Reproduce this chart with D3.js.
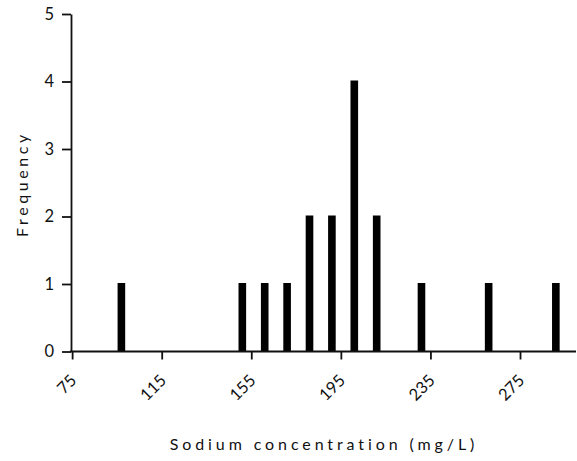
<!DOCTYPE html>
<html>
<head>
<meta charset="utf-8">
<script src="https://cdn.jsdelivr.net/npm/d3@7"></script>
<style>
  body { margin: 0; background: #fff; }
  text { font-family: Lato, "Open Sans", sans-serif; fill: #111; }
</style>
</head>
<body>
<div id="canvas"></div>
<script>
// bin centres (mg/L) and how many samples fell in each
const binCenters = [97, 151, 161, 171, 181, 191, 201, 211, 231, 261, 291];
const frequencies = [1, 1, 1, 1, 2, 2, 4, 2, 1, 1, 1];
const xTicks = [75, 115, 155, 195, 235, 275];
const yTicks = [0, 1, 2, 3, 4, 5];

const bins = binCenters.map((c, i) => ({center: c, count: frequencies[i]}));

const width = 577, height = 461;

const svg = d3.select("#canvas")
    .append("svg")
    .attr("width", width)
    .attr("height", height);

const x = d3.scaleLinear()
    .domain([74.5, 300])
    .range([71, 576]);

const y = d3.scaleLinear()
    .domain([0, 5])
    .range([351.5, 14]);

const halfBar = 1.7;

// bars
svg.append("g")
    .selectAll("rect")
    .data(bins)
    .enter()
    .append("rect")
    .attr("x", d => x(d.center - halfBar))
    .attr("y", d => y(d.count) - 1)
    .attr("width", d => x(d.center + halfBar) - x(d.center - halfBar))
    .attr("height", d => y(0) - y(d.count) + 1)
    .style("fill", "#000");

// x axis
const xAxis = svg.append("g")
    .attr("transform", "translate(0," + y(0) + ")")
    .call(d3.axisBottom(x).tickValues(xTicks).tickSize(8).tickSizeOuter(0).tickFormat(d3.format("d")));
xAxis.select(".domain").attr("d", "M" + (x.range()[0] - 1) + ",0H" + x.range()[1]);
xAxis.selectAll("line, path").style("stroke", "#111").style("stroke-width", 1.8);
xAxis.selectAll("text")
    .attr("y", 0)
    .attr("x", 0)
    .attr("dy", 0)
    .attr("transform", "translate(5,30) rotate(-45)")
    .style("text-anchor", "end")
    .style("font-size", "16.5px");

// y axis
const yAxis = svg.append("g")
    .attr("transform", "translate(" + x.range()[0] + ",0)")
    .call(d3.axisLeft(y).tickValues(yTicks).tickSize(9).tickSizeOuter(0).tickFormat(d3.format("d")));
yAxis.selectAll("line, path").style("stroke", "#111").style("stroke-width", 1.8);
yAxis.selectAll("text")
    .attr("x", -17)
    .style("font-size", "16.5px");

// axis titles
svg.append("text")
    .attr("x", 324)
    .attr("y", 450)
    .attr("text-anchor", "middle")
    .style("font-size", "16px")
    .style("letter-spacing", "3.9px")
    .text("Sodium concentration (mg/L)");

svg.append("text")
    .attr("transform", "translate(28,184) rotate(-90)")
    .attr("text-anchor", "middle")
    .style("font-size", "16px")
    .style("letter-spacing", "3.6px")
    .text("Frequency");
</script>
</body>
</html>
